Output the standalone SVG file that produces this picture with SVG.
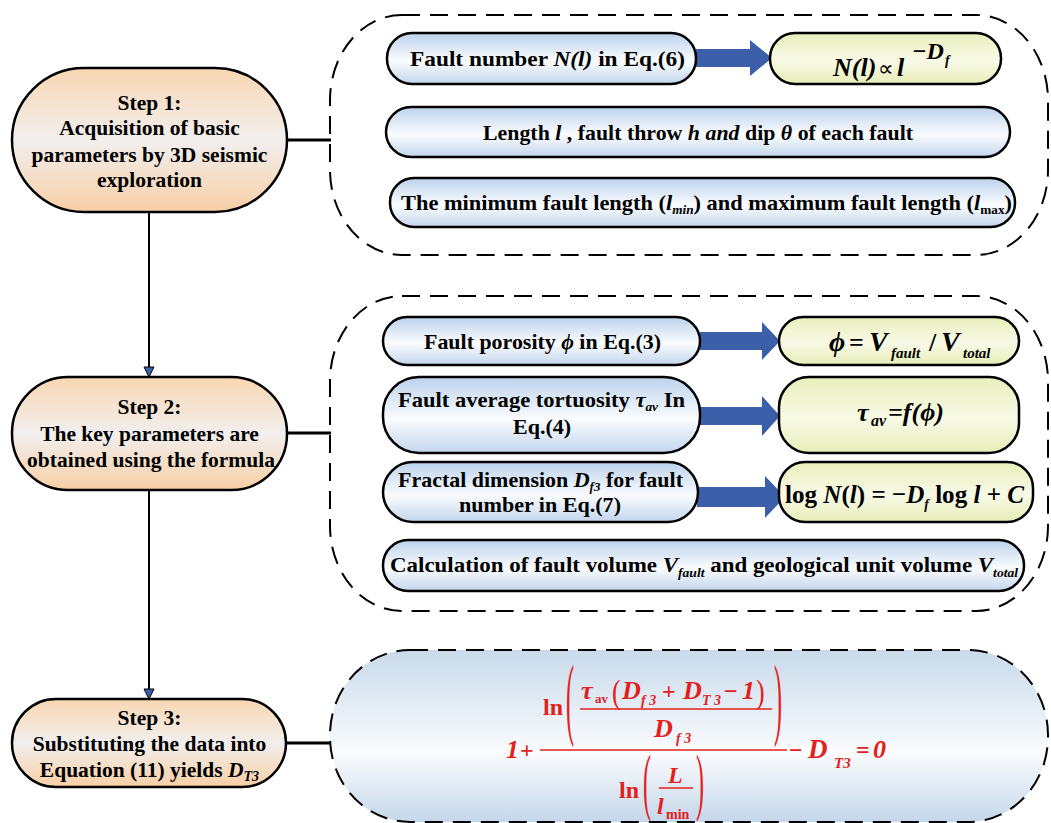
<svg xmlns="http://www.w3.org/2000/svg" width="1051" height="823" viewBox="0 0 1051 823">
<defs>
<linearGradient id="gStep" x1="0" y1="0" x2="0" y2="1">
<stop offset="0" stop-color="#F8D6B2"/><stop offset="0.5" stop-color="#F2EFEE"/><stop offset="1" stop-color="#F7CFA6"/>
</linearGradient>
<linearGradient id="gBlue" x1="0" y1="0" x2="0" y2="1">
<stop offset="0" stop-color="#BCD2EC"/><stop offset="0.55" stop-color="#FAFCFE"/><stop offset="1" stop-color="#C3D6EC"/>
</linearGradient>
<linearGradient id="gYel" x1="0" y1="0" x2="0" y2="1">
<stop offset="0" stop-color="#E8EFBC"/><stop offset="0.55" stop-color="#F8FAE6"/><stop offset="1" stop-color="#E6EDB8"/>
</linearGradient>
<linearGradient id="gBig" x1="0" y1="0" x2="0" y2="1">
<stop offset="0" stop-color="#C8DAEB"/><stop offset="0.6" stop-color="#FBFCFD"/><stop offset="1" stop-color="#C4D7EA"/>
</linearGradient>
<style>
.step{fill:url(#gStep);stroke:#000;stroke-width:2.5}
.bb{fill:url(#gBlue);stroke:#000;stroke-width:2.5}
.yb{fill:url(#gYel);stroke:#000;stroke-width:2.5}
.dash{fill:none;stroke:#000;stroke-width:2;stroke-dasharray:18 10}
.t{font-family:'Liberation Serif','Times New Roman',serif;font-weight:bold;fill:#000}
.st{font-size:21.5px;text-anchor:middle}
.bx{font-size:22px}
.i{font-style:italic}
.fm{font-size:26px;font-style:italic}
.r{font-family:'Liberation Serif','Times New Roman',serif;font-weight:bold;fill:#E3201B;font-size:24px}
.ri{font-style:italic}
.rp{font-weight:normal}
.ba{fill:#3C5FAA}
.ln{stroke:#000;stroke-width:3;fill:none}
.vl{stroke:#000;stroke-width:2;fill:none}
.ah{fill:#3C5FAA;stroke:#000;stroke-width:1}
.rl{stroke:#E3201B;stroke-width:1.5}
</style>
</defs>

<g id="group1">
<rect class="dash" x="330" y="15" width="718" height="240" rx="72" ry="85"/>
</g>
<g id="group2">
<rect class="dash" x="330" y="296" width="718" height="315" rx="72" ry="85"/>
</g>
<g id="group3">
<rect x="330" y="650" width="718" height="172" rx="80" ry="85" fill="url(#gBig)" stroke="#000" stroke-width="2" stroke-dasharray="18 10"/>
</g>

<g id="connectors">
<line class="ln" x1="287" y1="140" x2="331" y2="140"/>
<line class="ln" x1="287" y1="433" x2="331" y2="433"/>
<line class="ln" x1="286" y1="743" x2="331" y2="743"/>
<line class="vl" x1="149" y1="212" x2="149" y2="368"/>
<polygon class="ah" points="144,367 154,367 149,377"/>
<line class="vl" x1="149" y1="490" x2="149" y2="690"/>
<polygon class="ah" points="144,689 154,689 149,699"/>
<polygon class="ba" points="696,49 750,49 750,40 772,58 750,76 750,67 696,67"/>
<polygon class="ba" points="700,332 762,332 762,322 780,341 762,360 762,350 700,350"/>
<polygon class="ba" points="700,407 762,407 762,396 780,416 762,436 762,425 700,425"/>
<polygon class="ba" points="697,487 765,487 765,476 785,497 765,518 765,507 697,507"/>
</g>

<g id="step1">
<rect class="step" x="12" y="68" width="275" height="144" rx="72"/>
<text class="t st" x="149.5" y="110">Step 1:</text>
<text class="t st" x="149.5" y="135">Acquisition of basic</text>
<text class="t st" x="149.5" y="162">parameters by 3D seismic</text>
<text class="t st" x="149.5" y="187">exploration</text>
</g>
<g id="step2">
<rect class="step" x="12" y="377" width="275" height="113" rx="56"/>
<text class="t st" x="149.5" y="414">Step 2:</text>
<text class="t st" x="149.5" y="441">The key parameters are</text>
<text class="t st" x="151" y="467">obtained using the formula</text>
</g>
<g id="step3">
<rect class="step" x="12" y="699" width="274" height="88" rx="44"/>
<text class="t st" x="149.5" y="725">Step 3:</text>
<text class="t st" x="149.5" y="751">Substituting the data into</text>
<text class="t st" x="149.5" y="777">Equation (11) yields <tspan class="i">D</tspan><tspan class="i" style="font-size:14px" dy="4">T3</tspan></text>
</g>

<g id="n_faultnumber">
<rect class="bb" x="387" y="33" width="309" height="51" rx="25"/>
<text class="t bx" x="410" y="66" textLength="275" lengthAdjust="spacingAndGlyphs">Fault number <tspan class="i">N(l)</tspan> in Eq.(6)</text>
</g>
<g id="n_powerlaw">
<rect class="yb" x="770" y="33" width="231" height="51" rx="25"/>
<text class="t fm" x="833" y="76">N(l)</text>
<text class="t" x="878" y="76" style="font-size:22px;font-weight:normal">∝</text>
<text class="t fm" x="897" y="76">l</text>
<text class="t i" x="912" y="59" style="font-size:24px">−D</text>
<text class="t i" x="945" y="65" style="font-size:14px">f</text>
</g>
<g id="n_length">
<rect class="bb" x="386" y="107" width="624" height="50" rx="25"/>
<text class="t bx" x="483" y="140" textLength="430" lengthAdjust="spacingAndGlyphs">Length <tspan class="i">l</tspan> , fault throw <tspan class="i">h and</tspan> dip <tspan class="i">θ</tspan> of each fault</text>
</g>
<g id="n_minmax">
<rect class="bb" x="390" y="178" width="625" height="49" rx="24"/>
<text class="t bx" x="401" y="210" textLength="611" lengthAdjust="spacingAndGlyphs">The minimum fault length (<tspan class="i">l</tspan><tspan class="i" style="font-size:13px" dy="4">min</tspan><tspan dy="-4">) and maximum fault length (</tspan><tspan class="i">l</tspan><tspan style="font-size:13px" dy="4">max</tspan><tspan dy="-4">)</tspan></text>
</g>

<g id="n_porosity">
<rect class="bb" x="383" y="317" width="317" height="48" rx="24"/>
<text class="t bx" x="424" y="349" textLength="237" lengthAdjust="spacingAndGlyphs">Fault porosity <tspan class="i">ϕ</tspan> in Eq.(3)</text>
</g>
<g id="n_phi">
<rect class="yb" x="779" y="317" width="240" height="48" rx="24"/>
<text class="t fm" x="829" y="351" style="font-size:28px">ϕ</text>
<text class="t" x="849" y="351" style="font-size:26px">=</text>
<text class="t fm" x="869" y="351" style="font-size:28px">V</text>
<text class="t i" x="891" y="358" style="font-size:15px">fault</text>
<text class="t" x="929" y="351" style="font-size:26px">/</text>
<text class="t fm" x="941" y="351" style="font-size:28px">V</text>
<text class="t i" x="963" y="358" style="font-size:15px">total</text>
</g>
<g id="n_tortuosity">
<rect class="bb" x="383" y="377" width="317" height="76" rx="36"/>
<text class="t bx" x="398" y="407" textLength="287" lengthAdjust="spacingAndGlyphs">Fault average tortuosity  <tspan class="i">τ</tspan><tspan class="i" style="font-size:13px" dy="4">av</tspan><tspan dy="-4"> In</tspan></text>
<text class="t bx" x="542" y="434" text-anchor="middle">Eq.(4)</text>
</g>
<g id="n_tau">
<rect class="yb" x="779" y="377" width="240" height="76" rx="30"/>
<text class="t fm" x="857" y="421">τ</text>
<text class="t i" x="871" y="426" style="font-size:16px">av</text>
<text class="t fm" x="888" y="421">=f(ϕ)</text>
</g>
<g id="n_fractal">
<rect class="bb" x="383" y="462" width="315" height="60" rx="30"/>
<text class="t bx" x="398" y="487" textLength="285" lengthAdjust="spacingAndGlyphs">Fractal dimension <tspan class="i">D</tspan><tspan class="i" style="font-size:13px" dy="4">f3</tspan><tspan dy="-4"> for fault</tspan></text>
<text class="t bx" x="459" y="512" textLength="162" lengthAdjust="spacingAndGlyphs">number in Eq.(7)</text>
</g>
<g id="n_log">
<rect class="yb" x="779" y="462" width="254" height="60" rx="26"/>
<text class="t" x="785" y="503" style="font-size:26px" textLength="239" lengthAdjust="spacingAndGlyphs">log <tspan class="i">N</tspan>(<tspan class="i">l</tspan>) = −<tspan class="i">D</tspan><tspan class="i" style="font-size:14px" dy="6">f</tspan><tspan dy="-6"> log </tspan><tspan class="i">l</tspan> + <tspan class="i">C</tspan></text>
</g>
<g id="n_volume">
<rect class="bb" x="383" y="540" width="641" height="51" rx="25"/>
<text class="t bx" x="390" y="572" textLength="628" lengthAdjust="spacingAndGlyphs">Calculation of fault volume <tspan class="i">V</tspan><tspan class="i" style="font-size:13px" dy="5">fault</tspan><tspan dy="-5"> and geological unit volume </tspan><tspan class="i">V</tspan><tspan class="i" style="font-size:13px" dy="5">total</tspan></text>
</g>

<g id="n_equation">
<text class="r ri" x="506" y="758" style="font-size:26px">1</text>
<text class="r" x="520" y="758">+</text>
<line class="rl" x1="540" y1="750" x2="787" y2="750"/>
<text class="r" x="789" y="758">−</text>
<text class="r ri" x="808" y="758" style="font-size:27px">D</text>
<text class="r ri" x="834" y="768" style="font-size:15px">T3</text>
<text class="r" x="856" y="758">=</text>
<text class="r ri" x="873" y="758" style="font-size:26px">0</text>
<text class="r" x="543" y="715">ln</text>
<text class="r rp" transform="translate(566,728) scale(1,3.8)">(</text>
<text class="r rp" transform="translate(774,728) scale(1,3.8)">)</text>
<text class="r ri" x="581" y="699" style="font-size:26px">τ</text>
<text class="r" x="595" y="703" style="font-size:13px">av</text>
<text class="r rp" style="font-size:26px" transform="translate(612,703) scale(1,1.3)">(</text>
<text class="r ri" x="622" y="699" style="font-size:26px">D</text>
<text class="r ri" x="641" y="705" style="font-size:14px">f 3</text>
<text class="r" x="662" y="699">+</text>
<text class="r ri" x="683" y="699" style="font-size:26px">D</text>
<text class="r ri" x="702" y="705" style="font-size:14px">T 3</text>
<text class="r" x="724" y="699">−</text>
<text class="r ri" x="742" y="699" style="font-size:26px">1</text>
<text class="r rp" style="font-size:26px" transform="translate(756,703) scale(1,1.3)">)</text>
<line class="rl" x1="580" y1="709" x2="772" y2="709"/>
<text class="r ri" x="654" y="737" style="font-size:26px">D</text>
<text class="r ri" x="676" y="743" style="font-size:14px">f 3</text>
<text class="r" x="619" y="798">ln</text>
<text class="r rp" transform="translate(643,806) scale(1,3.05)">(</text>
<text class="r rp" transform="translate(696,806) scale(1,3.05)">)</text>
<text class="r ri" x="668" y="783">L</text>
<line class="rl" x1="659" y1="788" x2="693" y2="788"/>
<text class="r ri" x="657" y="814">l</text>
<text class="r" x="666" y="819" style="font-size:14px">min</text>
</g>
</svg>
